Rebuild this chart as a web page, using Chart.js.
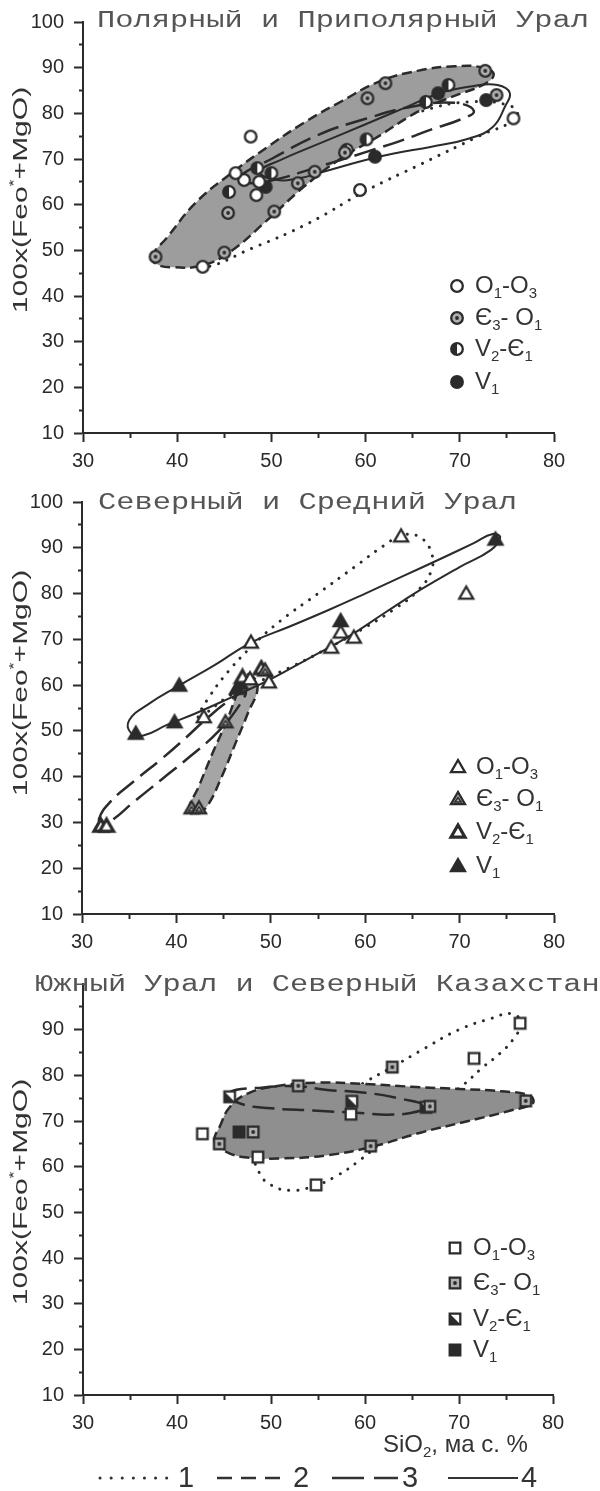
<!DOCTYPE html>
<html>
<head>
<meta charset="utf-8">
<script src="https://cdn.jsdelivr.net/npm/chart.js@4.4.0/dist/chart.umd.min.js"></script>
<style>
  html, body { margin: 0; padding: 0; background: #fff; }
  #wrap { position: relative; width: 600px; height: 1491px; }
  #wrap canvas { position: absolute; left: 0; }
</style>
</head>
<body>
<div id="wrap">
  <canvas id="c1" width="600" height="480" style="top:0"></canvas>
  <canvas id="c2" width="600" height="480" style="top:480px"></canvas>
  <canvas id="c3" width="600" height="531" style="top:960px"></canvas>
</div>
<script>
// ── Data: points are [SiO2, 100 x FeO / (FeO + MgO)] ──

const X_LABELS = [30, 40, 50, 60, 70, 80];
const Y_LABELS = [10, 20, 30, 40, 50, 60, 70, 80, 90, 100];

const PANEL_TITLES = [
  'Полярный и Приполярный Урал',
  'Северный и Средний Урал',
  'Южный Урал и Северный Казахстан'
];

// legend categories (text, subscript flags)
const AGE_LABELS = [
  [['O'], ['1', 'sub'], ['-O'], ['3', 'sub']],
  [['Є'], ['3', 'sub'], ['- O'], ['1', 'sub']],
  [['V'], ['2', 'sub'], ['-Є'], ['1', 'sub']],
  [['V'], ['1', 'sub']]
];
const Y_TITLE = [['100x(Feo'], ['*', 'sup'], ['+MgO)']];
const X_TITLE = [['SiO'], ['2', 'sub'], [', ма с. %']];
const LINE_KEYS = ['1', '2', '3', '4'];

// Полярный и Приполярный Урал
const p1_O1O3 = [[47.8, 74.9], [75.7, 78.9], [59.4, 63.2], [42.7, 46.4], [48.7, 65.0], [47.1, 65.4], [46.2, 66.9], [48.4, 62.1]];
const p1_E3O1 = [[60.2, 83.3], [62.1, 86.6], [72.7, 89.3], [73.9, 84.0], [54.6, 67.2], [52.8, 64.7], [45.4, 58.2], [50.3, 58.5], [45.0, 49.5], [37.7, 48.6], [57.8, 71.4]];
const p1_V2E1 = [[68.8, 86.2], [66.4, 82.5], [60.1, 74.3], [58.0, 72.0], [50.0, 66.9], [48.5, 68.0], [45.5, 62.8]];
const p1_V1 = [[72.8, 82.9], [67.7, 84.4], [61.0, 70.5], [49.4, 63.9]];
const p1_line1 = [[42.5, 46.2], [48, 50.5], [54, 56], [60, 63], [66, 69], [72, 75], [76, 79], [75.5, 81.5], [71, 82.5], [66, 80.5], [60, 76], [54, 70], [48, 62.5], [44, 55.5], [41.5, 49]];
const p1_line2 = [[37.3, 48.5], [39, 53], [42, 60.5], [45.5, 66.5], [49.5, 72.5], [53.5, 78], [57.5, 82.7], [61.5, 87], [65.5, 89.3], [69.5, 90.3], [72.5, 90], [73.6, 88.5],
  [72.5, 86.3], [69, 83.5], [65.5, 80.3], [61, 74.5], [57.5, 70.3], [53.5, 64], [49.5, 56.5], [45.5, 49.5], [42.5, 46.6], [39.5, 46.3], [38, 46.8]];
const p1_line3 = [[46.5, 66], [50, 70], [55, 75.3], [60, 78.8], [65, 81.5], [69.5, 82.3], [71.5, 80.5], [70, 78.6], [67, 76.5], [64, 74.2], [60, 71.5], [55, 68.3], [50, 65.3], [47, 64.8]];
const p1_line4 = [[48.8, 67.3], [51, 69.8], [55, 73.3], [60, 77.6], [64, 81.1], [68, 84.5], [71.5, 86], [74, 86.2], [75.3, 84.5], [74.8, 81.5], [73.5, 77], [71, 74.5],
  [67, 72.7], [63, 71.2], [60, 69.8], [56, 67.5], [52.5, 65.6], [50, 65.6]];

// Северный и Средний Урал
const p2_O1O3 = [[63.8, 92.5], [70.7, 80.0], [47.9, 69.3], [56.4, 68.2], [57.4, 71.5], [58.8, 70.4], [47.8, 61.3], [49.8, 60.6], [42.9, 53.0]];
const p2_E3O1 = [[41.6, 33.1], [42.4, 33.1], [45.2, 51.9], [49.4, 63.2]];
const p2_V2E1 = [[32.0, 29.2], [32.6, 29.2], [49.0, 63.6], [47.0, 61.7]];
const p2_V1 = [[73.8, 91.8], [57.4, 74.0], [40.3, 59.9], [39.8, 51.9], [35.7, 49.4], [46.8, 60.3], [46.4, 59.2]];
const p2_line1 = [[42.3, 53], [43.5, 57.5], [45.5, 63], [48, 68.5], [51, 74], [55, 80], [59, 86], [62, 90.5], [64, 92.8], [65.8, 92.3], [67, 89], [67, 85],
  [65.5, 80.5], [63, 76.5], [59.5, 72], [56, 68], [52.5, 64.3], [49, 61], [45.5, 57.5], [43.2, 54]];
const p2_line2 = [[41.3, 32.5], [42.4, 38], [43.8, 45], [45.3, 52], [46.3, 57.5], [47, 61.5], [47.8, 62.3], [48.6, 59.5], [47.6, 54], [46.2, 47], [44.8, 40], [43.4, 34], [42.5, 32.3]];
const p2_line3 = [[31.8, 30.8], [33, 34.5], [35.5, 39], [38.5, 44], [41, 48.5], [43, 52.3], [45.5, 56.5], [47.3, 58.6], [46.8, 56], [44.5, 50], [41.5, 44.5], [38.5, 39.5], [35.5, 34.5], [33.2, 30.5], [32.2, 29.7]];
const p2_line4 = [[35, 52.3], [37, 55.8], [40.3, 59.9], [44, 64.3], [47.9, 69.3], [52, 72.8], [56, 76.3], [60, 80], [64, 83.8], [68, 87.6], [71.5, 91], [73.5, 93], [74.3, 92.2],
  [73.3, 89.5], [70, 85.8], [66, 81], [62, 75.7], [58, 70.3], [54, 65.8], [50, 61.3], [46, 57.5], [42, 53.8], [39, 51.3], [36.5, 49], [35.2, 49.5]];

// Южный Урал и Северный Казахстан
const p3_O1O3 = [[76.5, 91.4], [71.6, 83.7], [42.7, 67.2], [54.8, 56.0], [48.6, 62.1], [58.5, 71.5]];
const p3_E3O1 = [[62.9, 81.8], [52.9, 77.7], [66.9, 73.2], [60.6, 64.5], [48.1, 67.6], [77.1, 74.4], [44.5, 65.0]];
const p3_V2E1 = [[45.6, 75.3], [58.6, 74.3], [66.5, 73.0]];
const p3_V1 = [[46.6, 67.6]];
const p3_line1 = [[48.4, 62.5], [48.8, 58.5], [50, 56], [52, 54.8], [54.5, 55.7], [57, 58], [59.5, 61.5], [62.5, 66.5], [66.5, 72], [70.5, 78], [72.5, 81.7], [74.3, 84.7],
  [75.8, 88], [76.6, 91.5], [75.6, 93.5], [73.5, 92.5], [70, 90], [66, 85.5], [62.9, 81.8], [60, 78.5], [57, 74.5], [53.5, 70], [50.5, 66]];
const p3_line2 = [[44, 65.5], [44.6, 69], [45.6, 73], [47.5, 76], [50.5, 77.6], [55, 78.4], [60, 78.1], [65, 77.5], [70, 77], [74.5, 76.5], [77.6, 75.5], [77.8, 73.8],
  [75.5, 72.3], [71, 70], [66, 67.5], [61, 64.5], [56, 62.5], [51, 61.8], [47.5, 62], [45.3, 63.2]];
const p3_line3 = [[45.6, 76.3], [46.5, 74], [50, 72.8], [54.5, 72.3], [59, 71.8], [63, 71.4], [66, 72.3], [66.6, 73.3], [64, 74.8], [60, 76.2], [56, 76.8], [52.7, 77.6], [49, 77.3]];

// ── Styles ──

const DARK = '#2b2b2b';
const SANS = '"Liberation Sans", Arial, sans-serif';
const LINE_STYLES = [
  { dash: [0.1, 9], width: 3, cap: 'round' },   // 1 dotted
  { dash: [10, 5], width: 2.5, cap: 'butt' },   // 2 dashed, shaded
  { dash: [22, 8], width: 2.5, cap: 'butt' },   // 3 long dash
  { dash: [], width: 2, cap: 'butt' }           // 4 solid
];
// draw order: dotted goes under the shaded field
const LINE_ORDER = [12, 9, 6, 7];

function makeMarker(shape, kind) {
  const S = 20, m = S / 2;
  const c = document.createElement('canvas');
  c.width = S; c.height = S;
  const g = c.getContext('2d');
  const outline = () => {
    g.beginPath();
    if (shape === 'circle') g.arc(m, m, 5.8, 0, Math.PI * 2);
    else if (shape === 'square') g.rect(m - 5.3, m - 5.3, 10.6, 10.6);
    else { g.moveTo(m, m - 7); g.lineTo(m + 7, m + 5.2); g.lineTo(m - 7, m + 5.2); g.closePath(); }
  };
  g.strokeStyle = DARK;
  g.lineWidth = kind === 'half' && shape === 'triangle' ? 3.2 : 2.3;
  outline();
  g.fillStyle = kind === 'fill' ? DARK : kind === 'dot' ? '#b0b0b0' : '#fff';
  g.fill();
  if (kind === 'half' && shape !== 'triangle') {
    g.save(); outline(); g.clip();
    g.fillStyle = DARK; g.beginPath();
    if (shape === 'circle') g.rect(0, 0, m, S);
    else { g.moveTo(0, 0); g.lineTo(0, S); g.lineTo(S, S); g.closePath(); }
    g.fill(); g.restore();
  }
  if (kind === 'dot') {
    g.fillStyle = DARK; g.beginPath();
    if (shape === 'triangle') {
      g.lineWidth = 1.4;
      g.moveTo(m, m - 1.5); g.lineTo(m + 3.2, m + 3); g.lineTo(m - 3.2, m + 3); g.closePath(); g.stroke();
      g.lineWidth = 2.3;
    } else { g.arc(m, m, 1.9, 0, Math.PI * 2); g.fill(); }
  }
  outline(); g.stroke();
  return c;
}

function rich(ctx, segs, x, y, size, align) {
  const parts = segs.map(([t, k]) => {
    const s = k ? Math.round(size * 0.62) : size;
    ctx.font = s + 'px ' + SANS;
    return { t, k, s, w: ctx.measureText(t).width };
  });
  const total = parts.reduce((a, p) => a + p.w, 0);
  let cx = align === 'center' ? x - total / 2 : x;
  ctx.textAlign = 'left';
  parts.forEach(p => {
    ctx.font = p.s + 'px ' + SANS;
    const dy = p.k === 'sub' ? size * 0.32 : p.k === 'sup' ? -size * 0.3 : 0;
    ctx.fillText(p.t, cx, y + dy);
    cx += p.w;
  });
}

// closes the boundary curves smoothly (same trick radar uses)
const loopLines = {
  id: 'loopLines',
  afterDatasetsUpdate(chart) {
    chart.data.datasets.forEach((ds, i) => {
      if (!ds.closed) return;
      const line = chart.getDatasetMeta(i).dataset;
      if (!line) return;
      line._loop = true;
      line._fullLoop = true;
      line._pointsUpdated = false;
      delete line._segments;
      line._path = undefined;
    });
  }
};

function decor(spec, markers) {
  return {
    id: 'decor',
    afterDraw(chart) {
      const ctx = chart.ctx;
      ctx.save();
      ctx.textBaseline = 'middle';

      // plate title, wide typewriter face
      ctx.save();
      ctx.fillStyle = '#555';
      ctx.font = '23px "Liberation Mono", "Courier New", monospace';
      ctx.textAlign = 'left';
      ctx.translate(spec.titleAt[0], spec.titleAt[1]);
      ctx.scale(1.32, 1);
      ctx.fillText(spec.title, 0, 0);
      ctx.restore();

      // y axis title
      ctx.fillStyle = '#333';
      ctx.save();
      ctx.translate(21, spec.yTitleY);
      ctx.rotate(-Math.PI / 2);
      ctx.scale(1.5, 1);
      rich(ctx, Y_TITLE, 0, 0, 20, 'center');
      ctx.restore();

      // symbol legend
      markers.forEach((mk, i) => {
        const y = spec.legendY[i];
        ctx.drawImage(mk, spec.legendX - mk.width / 2, y - mk.height / 2);
        rich(ctx, AGE_LABELS[i], spec.legendX + 18, y, 24);
      });

      if (spec.footer) {
        rich(ctx, X_TITLE, spec.footer.xTitle[0], spec.footer.xTitle[1], 24);
        const ky = spec.footer.keyY;
        spec.footer.keys.forEach(([x0, x1, tx], i) => {
          const st = LINE_STYLES[i];
          ctx.strokeStyle = '#333';
          ctx.lineWidth = st.width;
          ctx.lineCap = st.cap;
          ctx.setLineDash(i === 0 ? [0.1, 11] : i === 1 ? [15, 9] : i === 2 ? [32, 10] : []);
          ctx.beginPath(); ctx.moveTo(x0, ky); ctx.lineTo(x1, ky); ctx.stroke();
          ctx.setLineDash([]);
          ctx.font = '29px ' + SANS;
          ctx.fillStyle = '#333';
          ctx.fillText(LINE_KEYS[i], tx, ky + 1);
        });
      }
      ctx.restore();
    }
  };
}

function axisOpts(axis, size, hideTop) {
  const isX = axis === 'x';
  const labels = isX ? X_LABELS : Y_LABELS;
  return {
    type: 'linear',
    min: isX ? 30 : 10,
    max: isX ? 80 : 100,
    afterFit: s => { if (isX) s.height = size; else s.width = size; },
    ticks: {
      stepSize: 5,
      autoSkip: false,
      maxRotation: 0,
      padding: isX ? 7 : 10,
      color: '#2a2a2a',
      font: { family: SANS, size: 20 },
      callback: v => (labels.includes(v) && !(hideTop && v === 100)) ? String(v) : ''
    },
    grid: {
      drawOnChartArea: false,
      tickLength: 9,
      tickWidth: 2,
      tickColor: c => (hideTop && c.tick && c.tick.value === 100) ? 'rgba(0,0,0,0)' : DARK,
      tickBorderDash: c => (c.tick && c.tick.value % 10 !== 0) ? (isX ? [4, 100] : [0, 5, 4, 100]) : []
    },
    border: { color: DARK, width: 2 }
  };
}

function plate(id, p) {
  const markers = ['open', 'dot', 'half', 'fill'].map(k => makeMarker(p.shape, k));
  const datasets = [];
  p.groups.forEach((pts, k) => datasets.push({
    label: AGE_LABELS[k].map(s => s[0]).join(''),
    data: pts, pointStyle: markers[k], pointRadius: 6, showLine: false, order: k === 0 ? 0 : 1
  }));
  p.lines.forEach(([pts, style, shade]) => {
    const st = LINE_STYLES[style - 1];
    datasets.push({
      label: 'line ' + style,
      data: pts, closed: true, showLine: true, pointRadius: 0, tension: 0.45,
      borderColor: DARK, borderWidth: st.width, borderDash: st.dash, borderCapStyle: st.cap,
      fill: shade ? 'shape' : false,
      backgroundColor: shade || 'rgba(0,0,0,0)',
      order: LINE_ORDER[style - 1]
    });
  });
  return new Chart(document.getElementById(id), {
    type: 'scatter',
    data: { datasets },
    options: {
      responsive: false,
      animation: false,
      events: [],
      layout: { padding: p.padding },
      plugins: { legend: { display: false }, tooltip: { enabled: false } },
      scales: {
        x: axisOpts('x', p.xHeight),
        y: axisOpts('y', p.yWidth, p.hideTop)
      }
    },
    plugins: [loopLines, decor(p.decor, markers)]
  });
}

plate('c1', {
  shape: 'circle',
  groups: [p1_O1O3, p1_E3O1, p1_V2E1, p1_V1],
  lines: [[p1_line2, 2, '#9d9d9d'], [p1_line1, 1], [p1_line3, 3], [p1_line4, 4]],
  padding: { top: 22, right: 46, left: 0, bottom: 0 },
  xHeight: 47, yWidth: 83,
  decor: { title: PANEL_TITLES[0], titleAt: [97, 21], yTitleY: 200, legendX: 457, legendY: [286, 318, 349, 382] }
});

plate('c2', {
  shape: 'triangle',
  groups: [p2_O1O3, p2_E3O1, p2_V2E1, p2_V1],
  lines: [[p2_line2, 2, '#a5a5a5'], [p2_line1, 1], [p2_line3, 3], [p2_line4, 4]],
  padding: { top: 22, right: 46, left: 0, bottom: 0 },
  xHeight: 46, yWidth: 82,
  decor: { title: PANEL_TITLES[1], titleAt: [98, 23], yTitleY: 203, legendX: 458, legendY: [287, 319, 352, 386] }
});

plate('c3', {
  shape: 'square',
  groups: [p3_O1O3, p3_E3O1, p3_V2E1, p3_V1],
  lines: [[p3_line2, 2, '#8f8f8f'], [p3_line1, 1], [p3_line3, 3]],
  padding: { top: 24, right: 47, left: 0, bottom: 0 },
  xHeight: 96, yWidth: 83, hideTop: true,
  decor: {
    title: PANEL_TITLES[2], titleAt: [35, 25], yTitleY: 232, legendX: 455, legendY: [288, 323, 359, 390],
    footer: {
      xTitle: [383, 485], keyY: 518,
      keys: [[100, 173, 178], [217, 287, 293], [332, 398, 402], [448, 518, 521]]
    }
  }
});
</script>
</body>
</html>
